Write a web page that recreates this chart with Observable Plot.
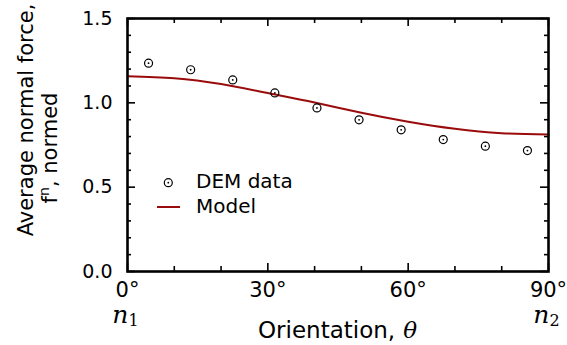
<!DOCTYPE html>
<html><head><meta charset="utf-8">
<script src="https://cdn.jsdelivr.net/npm/d3@7"></script>
<script src="https://cdn.jsdelivr.net/npm/@observablehq/plot@0.6"></script>
<style>body{margin:0;background:#fff}</style>
</head><body><div id="chart"></div>
<script>
// DEM data (bin centres, degrees) and normalized average normal force
const demAngles = [4.5, 13.5, 22.5, 31.5, 40.5, 49.5, 58.5, 67.5, 76.5, 85.5];
const demValues = [1.235, 1.196, 1.136, 1.059, 0.970, 0.899, 0.840, 0.782, 0.743, 0.717];
// Model curve
const modelAngles = [0, 10, 20, 30, 40, 50, 60, 70, 80, 90];
const modelValues = [1.158, 1.146, 1.111, 1.058, 1.002, 0.941, 0.888, 0.846, 0.820, 0.812];
// ticks
const yMajorTicks = [0, 0.5, 1.0, 1.5];
const yMinorTicks = [0.1, 0.2, 0.3, 0.4, 0.6, 0.7, 0.8, 0.9, 1.1, 1.2, 1.3, 1.4];
const xMajorTicks = [0, 30, 60, 90];
const xMinorTicks = [10, 20, 40, 50, 70, 80];
const nTickAngles = [0, 90];
const nTickSubs = ["1", "2"];

const W = 567, H = 345, ML = 127, MR = 19, MT = 18, MB = 74;
const PW = W - ML - MR, PH = H - MT - MB;
const RED = "#9a0b0b";

const dem = demAngles.map((a, i) => ({a, v: demValues[i]}));
const model = modelAngles.map((a, i) => ({a, v: modelValues[i]}));

const tickStyle = {stroke: "black", strokeWidth: 1.6};
const plot = Plot.plot({
  width: W, height: H,
  marginLeft: ML, marginRight: MR, marginTop: MT, marginBottom: MB,
  style: {fontFamily: "DejaVu Sans", color: "black", background: "white", overflow: "visible"},
  x: {domain: [0, 90]},
  y: {domain: [0, 1.5]},
  marks: [
    // inward ticks on all four sides
    Plot.tickY(yMajorTicks, {y: d => d, insetRight: PW - 8, ...tickStyle}),
    Plot.tickY(yMajorTicks, {y: d => d, insetLeft: PW - 8, ...tickStyle}),
    Plot.tickY(yMinorTicks, {y: d => d, insetRight: PW - 4, ...tickStyle}),
    Plot.tickY(yMinorTicks, {y: d => d, insetLeft: PW - 4, ...tickStyle}),
    Plot.tickX(xMajorTicks, {x: d => d, insetTop: PH - 8, ...tickStyle}),
    Plot.tickX(xMajorTicks, {x: d => d, insetBottom: PH - 8, ...tickStyle}),
    Plot.tickX(xMinorTicks, {x: d => d, insetTop: PH - 5, ...tickStyle}),
    Plot.tickX(xMinorTicks, {x: d => d, insetBottom: PH - 5, ...tickStyle}),
    Plot.axisY(yMajorTicks, {tickSize: 0, tickPadding: 15, tickFormat: d => d.toFixed(1), fontSize: 19, label: null}),
    Plot.axisX(xMajorTicks, {tickSize: 0, tickPadding: 11, tickFormat: d => d + "°", fontSize: 21, label: null}),
    Plot.text(nTickAngles, {x: d => d, frameAnchor: "bottom", lineAnchor: "bottom", dy: 51, dx: -2,
      text: (d, i) => "n" + nTickSubs[i], fontFamily: "DejaVu Serif", fontStyle: "italic", fontSize: 25}),
    Plot.line(model, {x: "a", y: "v", curve: "natural", stroke: RED, strokeWidth: 2}),
    Plot.dot(dem, {x: "a", y: "v", r: 4, stroke: "black", strokeWidth: 1.2, fill: "none"}),
    Plot.dot(dem, {x: "a", y: "v", r: 0.9, fill: "black", stroke: "none"}),
    Plot.frame({stroke: "black", strokeWidth: 2.6})
  ]
});

const svg = d3.select(plot);
// subscripts for n1 / n2
svg.selectAll("text").filter(function() { return /^n[12]$/.test(d3.select(this).text()); }).each(function() {
  const t = d3.select(this);
  const s = t.text();
  t.text(null);
  t.append("tspan").text(s[0]);
  t.append("tspan").attr("font-style", "normal").attr("font-size", 16).attr("dy", 3).text(s.slice(1));
});

// legend
const lg = svg.append("g").attr("font-family", "DejaVu Sans").attr("font-size", 20).attr("text-anchor", "start");
lg.append("circle").attr("cx", 168.3).attr("cy", 182.7).attr("r", 4).attr("fill", "none").attr("stroke", "black").attr("stroke-width", 1.2);
lg.append("circle").attr("cx", 168.3).attr("cy", 182.7).attr("r", 0.9).attr("fill", "black");
lg.append("text").attr("x", 196).attr("y", 181).attr("dy", "0.36em").text("DEM data");
lg.append("line").attr("x1", 157).attr("x2", 180).attr("y1", 207).attr("y2", 207).attr("stroke", RED).attr("stroke-width", 2);
lg.append("text").attr("x", 196).attr("y", 206).attr("dy", "0.36em").text("Model");

// axis titles
const xl = svg.append("text").attr("x", 337.5).attr("y", 338).attr("text-anchor", "middle")
  .attr("font-family", "DejaVu Sans").attr("font-size", 23).text("Orientation,");
xl.append("tspan").attr("dx", 8).attr("font-family", "DejaVu Serif").attr("font-style", "italic").attr("font-size", 23).text("θ");

svg.append("text").attr("transform", "translate(33,120) rotate(-90)").attr("text-anchor", "middle")
  .attr("font-family", "DejaVu Sans").attr("font-size", 21).text("Average normal force,");
const yl2 = svg.append("text").attr("transform", "translate(57,148) rotate(-90)").attr("text-anchor", "middle")
  .attr("font-family", "DejaVu Sans").attr("font-size", 21);
yl2.append("tspan").text("f");
yl2.append("tspan").attr("font-size", 14).attr("dy", -8).text("n");
yl2.append("tspan").attr("dy", 8).text(", normed");

document.getElementById("chart").appendChild(plot);
</script>
</body></html>
